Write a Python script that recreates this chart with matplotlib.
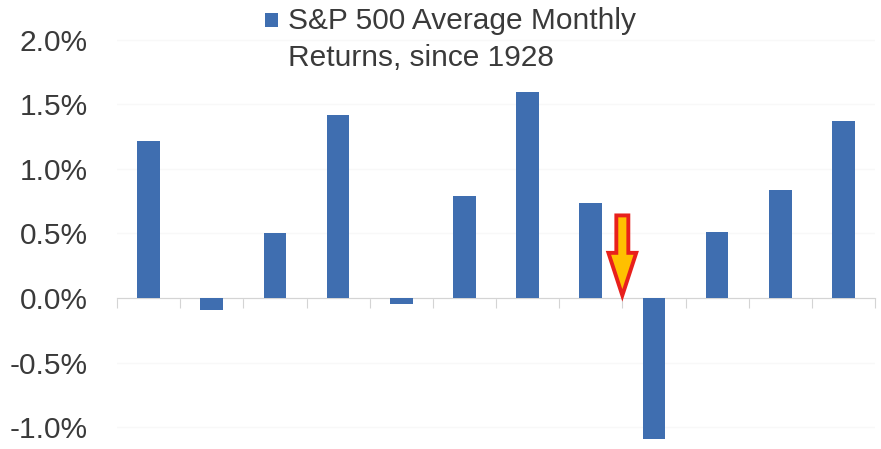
import matplotlib.pyplot as plt
from matplotlib.patches import FancyArrow, Rectangle

plt.rcParams['font.family'] = ['Liberation Sans', 'DejaVu Sans']

# average monthly returns (%), Jan..Dec
months = ['Jan', 'Feb', 'Mar', 'Apr', 'May', 'Jun',
          'Jul', 'Aug', 'Sep', 'Oct', 'Nov', 'Dec']
returns = [1.22, -0.09, 0.50, 1.42, -0.05, 0.79,
           1.60, 0.74, -1.09, 0.51, 0.84, 1.37]
yticks = [-1.0, -0.5, 0.0, 0.5, 1.0, 1.5, 2.0]
ytick_labels = ['-1.0%', '-0.5%', '0.0%', '0.5%', '1.0%', '1.5%', '2.0%']
legend_label = 'S&P 500 Average Monthly\nReturns, since 1928'

bar_color = '#3f6eb0'
text_color = '#3a3a3a'

fig = plt.figure(figsize=(8.81, 4.49), dpi=100)
ax = fig.add_axes([117 / 881, 1 - 442.5 / 449, (875 - 117) / 881, (442.5 - 33.5) / 449])

x = list(range(len(months)))
ax.bar(x, returns, width=0.36, color=bar_color, zorder=3)

ax.set_xlim(-0.5, len(months) - 0.5)
ax.set_ylim(-1.12, 2.05)
ax.set_yticks(yticks)
ax.set_yticklabels(ytick_labels)
ax.tick_params(axis='y', length=0, pad=21, labelsize=21.5, labelcolor=text_color)
ax.yaxis.grid(True, color='#f8f8f8', linewidth=1, zorder=0)

# category axis at zero, ticks between categories
ax.set_xticks([i - 0.5 for i in range(len(months) + 1)])
ax.set_xticklabels([])
ax.spines['bottom'].set_position(('data', 0))
ax.spines['bottom'].set_color('#d4d4d4')
ax.tick_params(axis='x', direction='out', length=7, width=0.8, color='#d4d4d4')
for s in ['top', 'right', 'left']:
    ax.spines[s].set_visible(False)

# arrow pointing at September
sep = months.index('Sep')
arrow = FancyArrow(sep - 0.5, 0.64, 0, -0.62, width=0.19, head_width=0.44,
                   head_length=0.33, length_includes_head=True,
                   facecolor='#ffc000', edgecolor='#e8201c', linewidth=2.8, zorder=5)
ax.add_patch(arrow)

# legend drawn by hand so the marker sits on the first line
fig.patches.append(Rectangle((265 / 881, 1 - 27 / 449), 13 / 881, 14 / 449,
                             transform=fig.transFigure, facecolor=bar_color,
                             edgecolor='none'))
fig.text(288 / 881, 1 - 7 / 449, legend_label, ha='left', va='top',
         fontsize=21.5, color=text_color, linespacing=1.4)

fig.savefig('out.png', dpi=100)
